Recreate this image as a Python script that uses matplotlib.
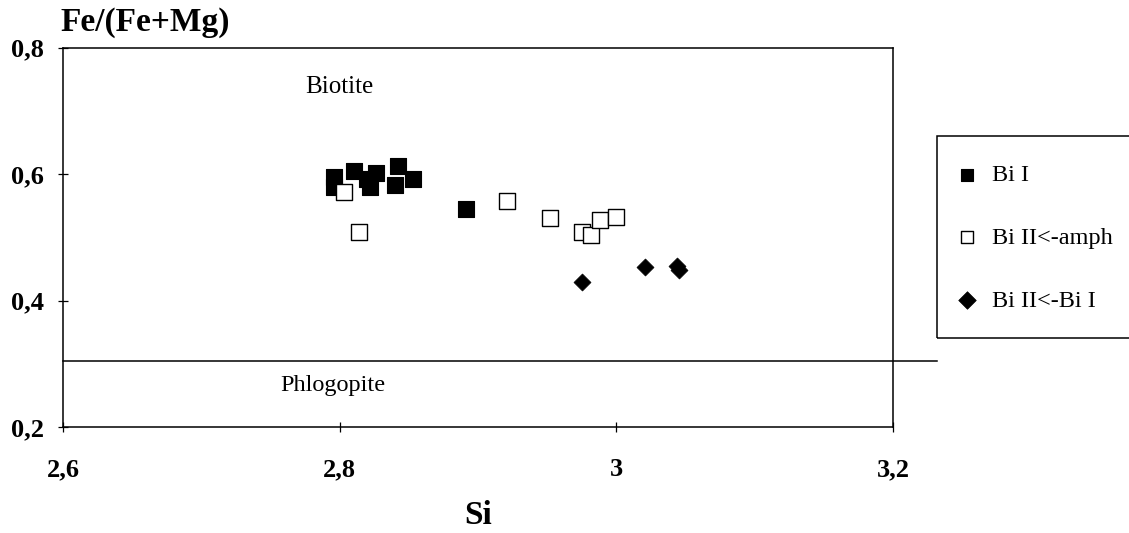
"""Fe/(Fe+Mg) vs Si diagram for the biotite generations."""

import matplotlib
matplotlib.use("Agg")
import matplotlib.pyplot as plt
from matplotlib.patches import Rectangle
from matplotlib.lines import Line2D
from matplotlib.transforms import blended_transform_factory

plt.rcParams["font.family"] = ["Liberation Serif", "DejaVu Serif"]

# Bi I (filled squares)
bi1_si = [2.796, 2.796, 2.810, 2.826, 2.822, 2.820, 2.842, 2.853, 2.840, 2.891]
bi1_fe = [0.596, 0.580, 0.604, 0.602, 0.580, 0.592, 0.612, 0.592, 0.582, 0.544]

# Bi II<-amph (open squares)
bi2a_si = [2.803, 2.814, 2.921, 2.952, 2.975, 2.982, 2.988, 3.000]
bi2a_fe = [0.571, 0.509, 0.558, 0.531, 0.509, 0.504, 0.527, 0.532]

# Bi II<-Bi I (diamonds)
bi2b_si = [2.975, 3.021, 3.044, 3.045]
bi2b_fe = [0.430, 0.453, 0.454, 0.449]

BOUNDARY = 0.305  # biotite / phlogopite divide

x_ticks = [2.6, 2.8, 3.0, 3.2]
x_labels = ["2,6", "2,8", "3", "3,2"]
y_ticks = [0.2, 0.4, 0.6, 0.8]
y_labels = ["0,2", "0,4", "0,6", "0,8"]

W, H = 1129, 533
fig = plt.figure(figsize=(W / 100, H / 100), dpi=100)
ax = fig.add_axes([63 / W, 1 - 427 / H, (893 - 63) / W, (427 - 47.5) / H])

ax.set_xlim(2.6, 3.2)
ax.set_ylim(0.2, 0.8)
ax.set_xticks(x_ticks)
ax.set_xticklabels(x_labels)
ax.set_yticks(y_ticks)
ax.set_yticklabels(y_labels)
ax.tick_params(direction="inout", length=7, width=0.9, labelsize=19)
ax.tick_params(axis="x", pad=19)
ax.tick_params(axis="y", pad=10)
for lab in ax.get_xticklabels() + ax.get_yticklabels():
    lab.set_fontweight("bold")
for sp in ax.spines.values():
    sp.set_linewidth(1.1)

h1 = ax.scatter(bi1_si, bi1_fe, marker="s", s=120, c="black", edgecolors="black",
                linewidths=0.8, zorder=3, label="Bi I")
h2 = ax.scatter(bi2a_si, bi2a_fe, marker="s", s=120, facecolors="white",
                edgecolors="black", linewidths=1.0, zorder=3, label="Bi II<-amph")
h3 = ax.scatter(bi2b_si, bi2b_fe, marker="D", s=75, c="black", edgecolors="black",
                linewidths=0.5, zorder=3, label="Bi II<-Bi I")

# boundary line runs from the y axis to the legend frame
tr = blended_transform_factory(fig.transFigure, ax.transData)
fig.add_artist(Line2D([63 / W, 937 / W], [BOUNDARY, BOUNDARY], transform=tr,
                      color="black", lw=1.1))

ax.text(2.800, 0.737, "Biotite", ha="center", va="center", fontsize=18)
ax.text(2.795, 0.266, "Phlogopite", ha="center", va="center", fontsize=17.5)

fig.text(60 / W, 1 - 22 / H, "Fe/(Fe+Mg)", ha="left", va="center",
         fontsize=24, fontweight="bold")
fig.text(478 / W, 1 - 515 / H, "Si", ha="center", va="center",
         fontsize=24, fontweight="bold")

# legend frame runs off the right edge
fig.add_artist(Rectangle((937 / W, 1 - 338 / H), 220 / W, (338 - 136) / H,
                         transform=fig.transFigure, facecolor="none",
                         edgecolor="black", lw=1.1, clip_on=False))
leg = fig.legend(handles=[h1, h2, h3], loc="upper left",
                 bbox_to_anchor=(958 / W, 1 - 164 / H), frameon=False,
                 fontsize=17.5, labelspacing=1.68, handletextpad=0.7,
                 handlelength=0.7, borderpad=0, borderaxespad=0)
for hnd in leg.legend_handles:
    hnd.set_sizes([80])

fig.savefig("out.png", dpi=100, facecolor="white")
